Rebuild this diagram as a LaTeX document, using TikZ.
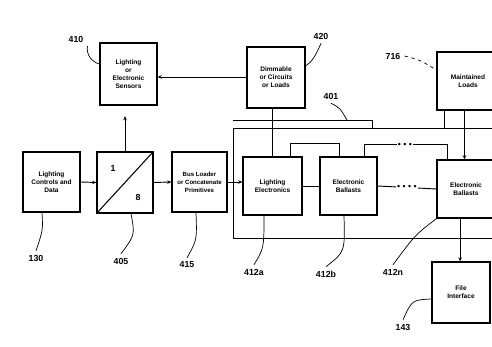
\documentclass[tikz,border=0pt]{standalone}
\usepackage{fontspec}
\setmainfont{Liberation Sans}
\usetikzlibrary{arrows.meta}

\tikzset{
  blk/.style 2 args={draw, line width=1.1pt, align=center, inner sep=1pt,
    minimum width=#1*0.3mm, minimum height=#2*0.3mm,
    font=\fontsize{5.6}{6.8}\selectfont\bfseries},
  refno/.style={font=\fontsize{7.5}{8}\selectfont\bfseries},
  dotrow/.style={fill=white, inner sep=1pt, font=\fontsize{7.5}{7.5}\selectfont},
  lead/.style={line width=0.6pt},
  wire/.style={line width=0.8pt},
  >={Stealth[length=3.5pt,width=3pt]}
}

\begin{document}
\begin{tikzpicture}[x=0.03cm,y=-0.03cm]
\useasboundingbox (0,0) rectangle (492,347);

\node[blk={57}{62}] (sens) at (128.5,74) {Lighting\\or\\Electronic\\Sensors};
\node[blk={58}{61}] (dimm) at (276,77.5) {Dimmable\\or Circuits\\or Loads};
\node[blk={62}{58}] (maint) at (468,81) {Maintained\\Loads};

\node[blk={57}{60}] (ctrl) at (51.5,182) {Lighting\\Controls and\\Data};
\node[blk={56}{61}] (split) at (125,182.5) {};
\draw[line width=0.9pt] (split.south west) -- (split.north east);
\node[refno] (one) at (113,168) {1};
\node[refno] (eight) at (138,197) {8};
\node[blk={55}{60}, font=\fontsize{5.2}{6.8}\selectfont\bfseries] (busld) at (199.5,182) {Bus Loader\\or Concatenate\\Primitives};

\node[blk={59}{58}] (bala) at (272.5,186) {Lighting\\Electronics};
\node[blk={57}{58}] (balb) at (348.5,186) {Electronic\\Ballasts};
\node[blk={58}{58}] (baln) at (466,189) {Electronic\\Ballasts};
\node[blk={58}{61}] (file) at (461,292.5) {File\\Interface};

% bus around the ballasts
\coordinate (bt1) at (233,120);
\coordinate (bt2) at (372,120);
\coordinate (bt3) at (372,128);
\coordinate (bl1) at (233,128);
\coordinate (bl2) at (492,128);
\coordinate (bb1) at (233,238);
\coordinate (bb2) at (492,238);
\coordinate (btap) at (347,120);
\draw[wire] (bt1) -- (bt2) -- (bt3);
\draw[wire] (bl2) -- (bl1) -- (bb1) -- (bb2);
\draw[wire] (maint.south west) ++(8,0) coordinate (mt) -- (mt |- bl2);

% signal path
\draw[wire,->] (ctrl.east) -- (split.west);
\draw[wire,->] (split.east) -- (busld.west);
\draw[wire,->] (busld.east) -- (busld.east -| bala.west);
\draw[wire,->] (split.north) -- ([yshift=-9pt]split.north |- sens.south);
\draw[wire,->] (dimm.west |- 0,77) -- (sens.east |- 0,77);
\draw[wire] (dimm.south -| bala.north) -- (bala.north);

\draw[wire] (bala.east) -- (balb.west);
\draw[wire] (balb.east) -- node[dotrow] (dmid) {\textbullet\ \textbullet\ \textbullet\ \textbullet} (baln.west);

\draw[wire] ([xshift=15pt]bala.north) -- ++(0,-13) -| ([xshift=-8pt]balb.north);
\draw[wire] ([xshift=14pt]balb.north) -- ++(0,-12) -| ([xshift=-16pt]baln.north);
\node[dotrow] (dtop) at (405,145) {\textbullet\ \textbullet\ \textbullet};

\draw[wire,->] ([xshift=-3pt]maint.south) -- ([xshift=-3pt]maint.south |- baln.north);
\draw[wire,->] ([xshift=-5pt]baln.south) -- ([xshift=-5pt]baln.south |- file.north);

% reference numbers
\node[refno] (r410) at (76,39) {410};
\draw[lead] (r410.south east) .. controls (86,55) and (92,62) .. (sens.west |- 0,64);
\node[refno] (r420) at (321,36) {420};
\draw[lead] (r420.south) .. controls (316,55) and (312,62) .. (dimm.east |- 0,66);
\node[refno] (r716) at (393,56) {716};
\draw[lead,dashed] (r716.east) .. controls (420,60) .. (maint.west |- 0,70);
\node[refno] (r401) at (331,96) {401};
\draw[lead] (r401.south) .. controls (340,108) .. (btap);

\node[refno] (r130) at (36,258) {130};
\draw[lead] (ctrl.south -| 42,0) .. controls (43,230) .. (r130.north);
\node[refno] (r405) at (121,261) {405};
\draw[lead] (split.south -| 131,0) .. controls (135,235) .. (r405.north);
\node[refno] (r415) at (187,265) {415};
\draw[lead] (busld.south -| 196,0) .. controls (197,240) .. (r415.north);
\node[refno] (r412a) at (254,272) {412a};
\draw[lead] (bala.south -| 264,0) .. controls (264,248) .. (r412a.north);
\node[refno] (r412b) at (326,274) {412b};
\draw[lead] (balb.south -| 344,0) .. controls (345,252) .. (r412b.north);
\node[refno] (r412n) at (393,272) {412n};
\draw[lead] (baln.south west) .. controls (415,235) .. (r412n.north);
\node[refno] (r143) at (403,327) {143};
\draw[lead] (file.west |- 0,299) .. controls (412,300) .. (r143.north);
\end{tikzpicture}
\end{document}
